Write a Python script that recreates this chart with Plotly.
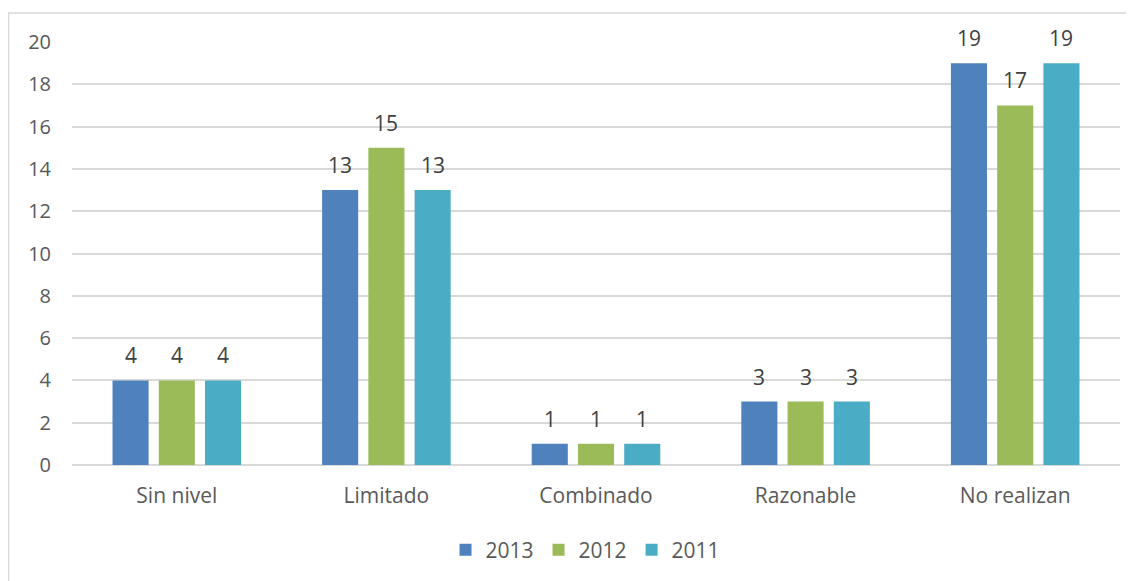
import plotly.graph_objects as go

categories = ["Sin nivel", "Limitado", "Combinado", "Razonable", "No realizan"]
years = ["2013", "2012", "2011"]
v2013 = [4, 13, 1, 3, 19]
v2012 = [4, 15, 1, 3, 17]
v2011 = [4, 13, 1, 3, 19]
colors = ["#4F81BD", "#9BBB59", "#4BACC6"]

# page body has an 8px margin, so the figure is sized to fit the window
OFF = 8
W, H = 1134 - OFF, 581 - OFF
L, R, T, B = 72 - OFF, 14, 42 - OFF, 115
pw, ph = W - L - R, H - T - B
BARGAP, GROUPGAP = 0.338, 0.22

fig = go.Figure()
series = [v2013, v2012, v2011]
for name, vals, col in zip(years, series, colors):
    fig.add_trace(go.Bar(
        x=categories, y=vals, name=name,
        marker=dict(color=col, line=dict(width=0)),
    ))

# data labels sit a bit higher above the bars than plotly's outside text
slot = pw / len(categories) * (1 - BARGAP) / len(series)
for i, vals in enumerate(series):
    for cat, v in zip(categories, vals):
        fig.add_annotation(x=cat, y=v, text=str(v), showarrow=False,
                           xanchor="center", yanchor="bottom",
                           xshift=(i - 1) * slot, yshift=9,
                           font=dict(size=21, color="#404040"))

# outer chart border (right and bottom fall outside the window as in the original)
fig.add_shape(type="rect", xref="paper", yref="paper",
              x0=(0.5 - L) / pw, x1=(W + 4 - L) / pw,
              y0=1 - (H + 4 - T) / ph, y1=1 + (T - 5) / ph,
              line=dict(color="#D9D9D9", width=1.5), layer="below")

fig.update_layout(
    width=W, height=H,
    margin=dict(l=L, r=R, t=T, b=B),
    plot_bgcolor="white", paper_bgcolor="white",
    font=dict(family="Open Sans, Liberation Sans, sans-serif", color="#595959", size=20),
    barmode="group", bargap=BARGAP, bargroupgap=GROUPGAP,
    showlegend=True,
    legend=dict(orientation="h", xanchor="center", x=0.49, yanchor="middle",
                y=-(550 - 466) / ph, font=dict(size=21), traceorder="normal",
                itemwidth=30),
)
fig.update_yaxes(range=[0, 20], dtick=2, showgrid=True, gridcolor="#D9D9D9",
                 gridwidth=1.5, zeroline=True, zerolinecolor="#D9D9D9", zerolinewidth=1.5,
                 showline=False, ticks="", ticklabelstandoff=20, tickfont=dict(size=20))
fig.update_xaxes(showline=False, ticks="", tickfont=dict(size=21), ticklabelstandoff=16)

fig.write_html("out.html")
